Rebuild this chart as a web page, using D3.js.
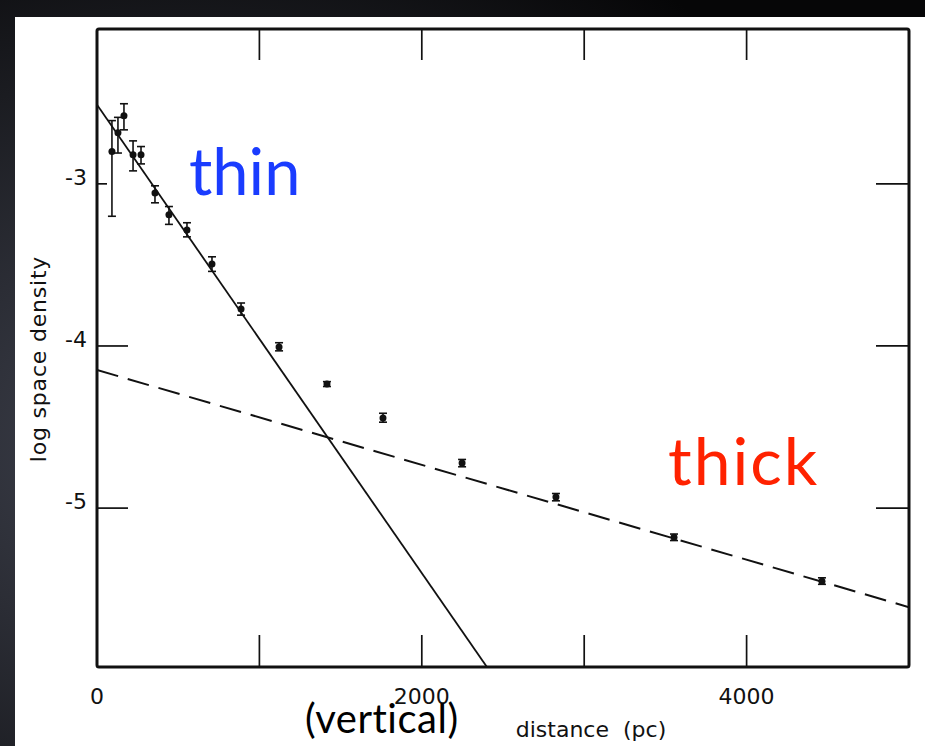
<!DOCTYPE html>
<html>
<head>
    <title>log space density vs distance</title>
    <script src="https://d3js.org/d3.v7.min.js"></script>
    <style>
        html, body { margin: 0; padding: 0; background: #000; overflow: hidden; }
        svg { display: block; }
        .lettering { font-family: "DejaVu Sans", "Liberation Sans", sans-serif; fill: #111; }
        .humanist { font-family: Lato, "Open Sans", sans-serif; }
    </style>
</head>
<body>
<div id="chart"></div>
<script type="text/javascript">
    // distance (pc) of each bin
    const distance = [92, 129, 166, 222, 271, 357, 443, 554, 708, 887, 1121, 1416, 1761, 2248, 2826, 3553, 4464];
    // log space density of each bin
    const logDensity = [-2.80, -2.685, -2.58, -2.82, -2.82, -3.056, -3.19, -3.284, -3.494, -3.772, -4.006, -4.235, -4.444, -4.722, -4.932, -5.179, -5.451];
    // error bar ends
    const errHigh = [-2.61, -2.59, -2.506, -2.735, -2.77, -3.012, -3.14, -3.24, -3.45, -3.735, -3.98, -4.22, -4.415, -4.70, -4.91, -5.16, -5.43];
    const errLow = [-3.20, -2.81, -2.667, -2.92, -2.877, -3.117, -3.25, -3.327, -3.54, -3.81, -4.03, -4.25, -4.47, -4.745, -4.955, -5.20, -5.47];

    // fitted exponentials: [log density at 0 pc, change per pc]
    const thinFit = [-2.512, -0.0014444];
    const thickFit = [-4.148, -0.0002926];

    const xTicks = [0, 1000, 2000, 3000, 4000, 5000];
    const xTickLabels = [0, 2000, 4000];
    const yTicks = [-3, -4, -5];

    const width = 925;
    const height = 746;

    const svg = d3.select('#chart').append('svg')
        .attr('width', width).attr('height', height);

    // dark slide background
    const defs = svg.append('defs');
    const bg = defs.append('radialGradient').attr('id', 'bg')
        .attr('cx', '0.2').attr('cy', '0.6').attr('r', '0.8');
    bg.append('stop').attr('offset', '0%').style('stop-color', '#40434f');
    bg.append('stop').attr('offset', '100%').style('stop-color', '#060607');
    svg.append('rect').attr('width', width).attr('height', height).attr('fill', 'url(#bg)');

    // white scanned page
    svg.append('rect').attr('x', 15).attr('y', 17)
        .attr('width', width - 15).attr('height', height - 17).attr('fill', '#fff');

    const x = d3.scaleLinear().domain([0, 5000]).range([97, 909]);
    const y = d3.scaleLinear().domain([-5.98, -2.045]).range([667, 29]);

    defs.append('clipPath').attr('id', 'plot')
        .append('rect').attr('x', x(0)).attr('y', y(-2.045))
        .attr('width', x(5000) - x(0)).attr('height', y(-5.98) - y(-2.045));

    const ink = '#111';

    // tick marks, drawn inward on all four sides
    const tickLen = 32;
    const g = svg.append('g');
    g.selectAll('.xb').data(xTicks.slice(1, -1)).enter().append('line')
        .attr('x1', d => x(d)).attr('x2', d => x(d))
        .attr('y1', y(-5.98)).attr('y2', y(-5.98) - tickLen)
        .attr('stroke', ink).attr('stroke-width', 1.7);
    g.selectAll('.xt').data(xTicks.slice(1, -1)).enter().append('line')
        .attr('x1', d => x(d)).attr('x2', d => x(d))
        .attr('y1', y(-2.045)).attr('y2', y(-2.045) + tickLen - 1)
        .attr('stroke', ink).attr('stroke-width', 1.7);
    g.selectAll('.yl').data(yTicks).enter().append('line')
        .attr('x1', x(0)).attr('x2', d => x(0) + (d === -3 ? 10 : tickLen - 1))
        .attr('y1', d => y(d)).attr('y2', d => y(d))
        .attr('stroke', ink).attr('stroke-width', 1.7);
    g.selectAll('.yr').data(yTicks).enter().append('line')
        .attr('x1', x(5000)).attr('x2', x(5000) - 33)
        .attr('y1', d => y(d)).attr('y2', d => y(d))
        .attr('stroke', ink).attr('stroke-width', 1.7);

    // frame
    svg.append('rect')
        .attr('x', x(0)).attr('y', y(-2.045))
        .attr('width', x(5000) - x(0)).attr('height', y(-5.98) - y(-2.045))
        .attr('fill', 'none').attr('stroke', ink).attr('stroke-width', 3)
        .attr('rx', 2);

    // tick labels
    svg.selectAll('.xlab').data(xTickLabels).enter().append('text')
        .attr('class', 'lettering')
        .attr('x', d => x(d)).attr('y', 704)
        .attr('text-anchor', 'middle').style('font-size', '22px')
        .text(d => d);
    svg.selectAll('.ylab').data(yTicks).enter().append('text')
        .attr('class', 'lettering')
        .attr('x', 87).attr('y', d => y(d) - 7).attr('dy', '0.36em')
        .attr('text-anchor', 'end').style('font-size', '22px')
        .text(d => '-' + Math.abs(d));

    // axis titles
    svg.append('text').attr('class', 'lettering')
        .attr('x', 591).attr('y', 737).attr('text-anchor', 'middle')
        .style('font-size', '22px').style('white-space', 'pre')
        .text('distance  (pc)');
    svg.append('text').attr('class', 'lettering')
        .attr('transform', 'translate(46,359) rotate(-90)')
        .attr('text-anchor', 'middle')
        .style('font-size', '22px').style('letter-spacing', '0.8px')
        .text('log space density');

    // fitted lines
    const plot = svg.append('g').attr('clip-path', 'url(#plot)');
    const fitLine = d3.line().x(d => x(d[0])).y(d => y(d[1]));
    const ends = [0, 5000];
    plot.append('path')
        .datum(ends.map(d => [d, thinFit[0] + thinFit[1] * d]))
        .attr('d', fitLine).attr('fill', 'none')
        .attr('stroke', ink).attr('stroke-width', 1.8);
    plot.append('path')
        .datum(ends.map(d => [d, thickFit[0] + thickFit[1] * d]))
        .attr('d', fitLine).attr('fill', 'none')
        .attr('stroke', ink).attr('stroke-width', 2)
        .attr('stroke-dasharray', '22,10');

    // data points with error bars
    const pts = distance.map((d, i) => ({d: d, v: logDensity[i], hi: errHigh[i], lo: errLow[i]}));
    const pt = plot.selectAll('.pt').data(pts).enter().append('g');
    pt.append('line')
        .attr('x1', d => x(d.d)).attr('x2', d => x(d.d))
        .attr('y1', d => y(d.hi)).attr('y2', d => y(d.lo))
        .attr('stroke', ink).attr('stroke-width', 1.6);
    pt.append('line')
        .attr('x1', d => x(d.d) - 4).attr('x2', d => x(d.d) + 4)
        .attr('y1', d => y(d.hi)).attr('y2', d => y(d.hi))
        .attr('stroke', ink).attr('stroke-width', 1.6);
    pt.append('line')
        .attr('x1', d => x(d.d) - 4).attr('x2', d => x(d.d) + 4)
        .attr('y1', d => y(d.lo)).attr('y2', d => y(d.lo))
        .attr('stroke', ink).attr('stroke-width', 1.6);
    pt.append('circle')
        .attr('cx', d => x(d.d)).attr('cy', d => y(d.v))
        .attr('r', 3.5).attr('fill', ink);

    // slide annotations
    svg.append('text').attr('class', 'humanist')
        .attr('x', 189).attr('y', 195)
        .style('font-size', '65px').style('fill', '#1a3cff')
        .text('thin');
    svg.append('text').attr('class', 'humanist')
        .attr('x', 668).attr('y', 485)
        .style('font-size', '66px').style('fill', '#ff2200')
        .style('letter-spacing', '2px')
        .text('thick');
    svg.append('text').attr('class', 'humanist')
        .attr('x', 305).attr('y', 733)
        .style('font-size', '40px').style('fill', '#000')
        .style('letter-spacing', '0.5px')
        .text('(vertical)');
</script>
</body>
</html>
